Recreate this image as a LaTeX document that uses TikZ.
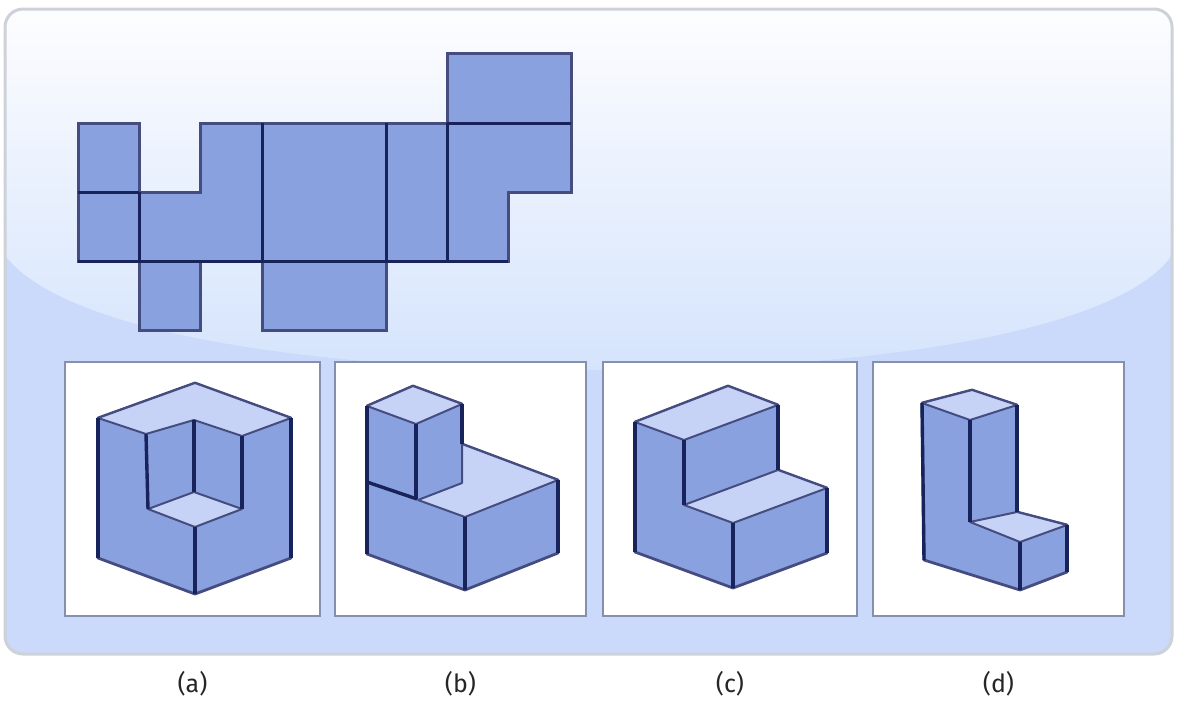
\documentclass[tikz,border=0pt]{standalone}
\usepackage{fontspec}
\setmainfont{Fira Sans}
\usetikzlibrary{positioning}
\definecolor{facecol}{HTML}{8AA1E0}
\definecolor{topcol}{HTML}{C6D3F6}
\definecolor{linecol}{HTML}{18235C}
\definecolor{softcol}{HTML}{454C80}
\definecolor{framecol}{HTML}{8490AE}
\definecolor{glossa}{HTML}{FDFDFF}
\definecolor{glossb}{HTML}{E5EBFD}
\definecolor{glossc}{HTML}{D5E4FC}
\definecolor{lowerb}{HTML}{CBD9FA}
\definecolor{rimcol}{HTML}{CDD2D8}
\tikzset{
    netface/.style={fill=facecol, draw=softcol, line width=3pt, line join=miter},
    fold/.style={draw=linecol, line width=3pt},
    solidface/.style={fill=facecol, draw=softcol, line width=2.8pt, line join=round},
    topface/.style={fill=topcol, draw=softcol, line width=2pt, line join=round},
    edgeline/.style={draw=linecol, line width=3.4pt},
    panelbox/.style={draw=framecol, line width=2pt, fill=white, minimum width=#1, minimum height=254pt, inner sep=0pt},
    caption/.style={text=black!85, font=\fontsize{25}{25}\selectfont}
}
\begin{document}
\begin{tikzpicture}[x=1pt, y=-1pt, node distance=51pt]
    \useasboundingbox (0,0) rectangle (1177,702);
    \fill[white] (0,0) rectangle (1177,702);

    % background
    \begin{scope}
        \clip[rounded corners=18pt] (5,9) rectangle (1172,654);
        \fill[lowerb] (5,9) rectangle (1172,654);
        \shade[top color=glossa, middle color=glossb, bottom color=glossc] (5,9) -- (1172,9) -- (1172,255)
            .. controls (1120,330) and (880,370) .. (590,370)
            .. controls (300,370) and (60,330) .. (5,255) -- cycle;
    \end{scope}
    \draw[rimcol, line width=3pt, rounded corners=18pt] (5,9) rectangle (1172,654);

    % net
    \draw[netface] (447,53) -- (571,53) -- (571,192) -- (508,192) -- (508,261) -- (386,261)
        -- (386,330) -- (262,330) -- (262,261) -- (200,261) -- (200,330) -- (139,330)
        -- (139,261) -- (78,261) -- (78,123) -- (139,123) -- (139,192) -- (200,192)
        -- (200,123) -- (447,123) -- cycle;
    \foreach \xa/\ya/\xb/\yb in {447/123/571/123, 78/192/139/192, 139/192/139/261,
        262/123/262/261, 386/123/386/261, 447/123/447/261, 78/261/508/261}
        \draw[fold] (\xa,\ya) -- (\xb,\yb);

    % panels
    \node[panelbox=255pt] (pa) at (192.5,489) {};
    \node[panelbox=251pt] (pb) at (460.5,489) {};
    \node[panelbox=254pt] (pc) at (730,489) {};
    \node[panelbox=251pt] (pd) at (998.5,489) {};

    \node[caption, below=of pa] (la) {(a)};
    \node[caption, below=of pb] (lb) {(b)};
    \node[caption, below=of pc] (lc) {(c)};
    \node[caption, below=of pd] (ld) {(d)};

    % solid a
    \draw[solidface] (98,418) -- (195,383) -- (291,418) -- (291,558) -- (195,594) -- (98,558) -- cycle;
    \draw[topface] (98,418) -- (195,383) -- (291,418) -- (242,436) -- (194,420) -- (146,434) -- cycle;
    \draw[topface] (148,509) -- (194,492) -- (242,509) -- (195,527) -- cycle;
    \draw[edgeline] (98,418) -- (98,558);
    \draw[edgeline] (291,418) -- (291,558);
    \draw[edgeline] (146,434) -- (148,509);
    \draw[edgeline] (194,420) -- (194,492);
    \draw[edgeline] (242,436) -- (242,509);
    \draw[edgeline] (195,527) -- (195,594);

    % solid b
    \draw[solidface] (367,406) -- (413,386) -- (462,404) -- (462,444) -- (558,480) -- (558,553)
        -- (465,590) -- (367,554) -- cycle;
    \draw[topface] (367,406) -- (413,386) -- (462,404) -- (416,424) -- cycle;
    \draw[topface] (418,500) -- (462,483) -- (462,444) -- (558,480) -- (465,517) -- cycle;
    \draw[edgeline] (367,406) -- (367,554);
    \draw[edgeline] (367,482) -- (417,499);
    \draw[edgeline] (416,424) -- (416,499);
    \draw[edgeline] (462,404) -- (462,444);
    \draw[edgeline] (465,517) -- (465,590);
    \draw[edgeline] (558,480) -- (558,553);

    % solid c
    \draw[solidface] (635,422) -- (728,386) -- (778,405) -- (778,470) -- (827,488) -- (827,553)
        -- (733,588) -- (635,552) -- cycle;
    \draw[topface] (635,422) -- (728,386) -- (778,405) -- (684,440) -- cycle;
    \draw[topface] (684,505) -- (778,470) -- (827,488) -- (733,523) -- cycle;
    \draw[edgeline] (635,422) -- (635,552);
    \draw[edgeline] (684,440) -- (684,505);
    \draw[edgeline] (778,405) -- (778,470);
    \draw[edgeline] (733,523) -- (733,588);
    \draw[edgeline] (827,488) -- (827,553);

    % solid d
    \draw[solidface] (922,403) -- (972,390) -- (1017,405) -- (1017,512) -- (1067,525) -- (1067,572)
        -- (1020,590) -- (924,560) -- cycle;
    \draw[topface] (922,403) -- (972,390) -- (1017,405) -- (970,420) -- cycle;
    \draw[topface] (970,522) -- (1017,512) -- (1067,525) -- (1020,542) -- cycle;
    \draw[edgeline] (922,403) -- (924,560);
    \draw[edgeline] (970,420) -- (970,522);
    \draw[edgeline] (1017,405) -- (1017,512);
    \draw[edgeline] (1020,542) -- (1020,590);
    \draw[edgeline] (1067,525) -- (1067,572);
\end{tikzpicture}
\end{document}
